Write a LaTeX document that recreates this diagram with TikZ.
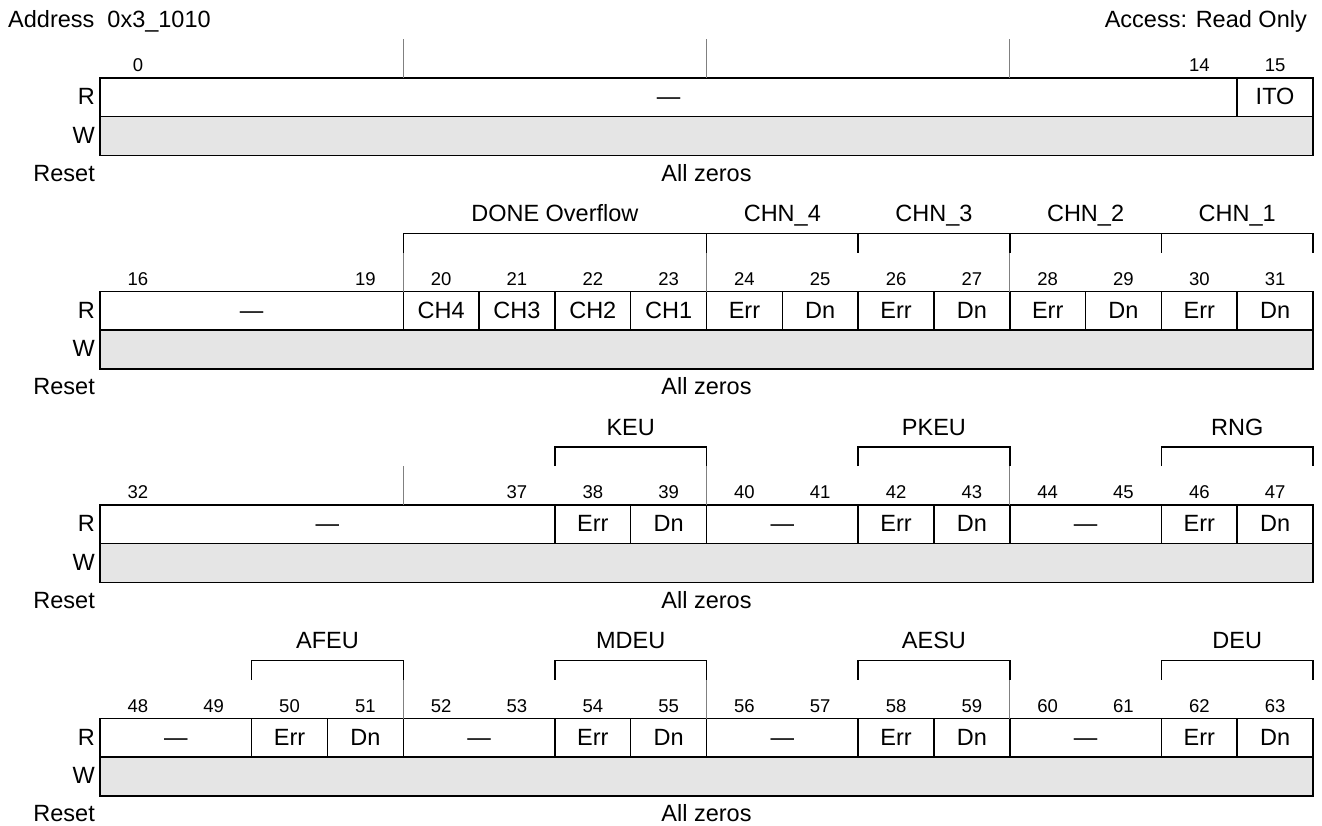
\documentclass[tikz,border=0pt]{standalone}
\usepackage{fontspec}
\setmainfont{Liberation Sans}
\definecolor{wfill}{RGB}{229,229,229}
\definecolor{tickgray}{RGB}{128,128,128}
% #1 = top y of register, #2 = name prefix
\newcommand\regframe[2]{%
  \fill[wfill] (100,#1+38.7) rectangle (1313,#1+77.4);
  \draw[box] (100,#1) rectangle (1313,#1+77.4);
  \draw[box] (100,#1+38.7) -- (1313,#1+38.7);
  \node[lbl, anchor=base east] (#2R) at (95,#1+26.5) {R};
  \node[lbl, anchor=base east] (#2W) at (95,#1+65.2) {W};
  \node[lbl, anchor=base east] (#2reset) at (95,#1+103.2) {Reset};
  \node[lbl, anchor=base] (#2zeros) at (706.5,#1+103.2) {All zeros};
  \foreach \c in {4,8,12} \draw[tick] ({100+\c*75.8125},#1-38.7) -- ({100+\c*75.8125},#1);
}
% dividers in R row: #1 = top, #2 = list of columns
\newcommand\rdivs[2]{%
  \foreach \c in {#2} \draw[box] ({100+\c*75.8125},#1) -- ({100+\c*75.8125},#1+38.7);
}
% cell text: #1 top, #2 from col, #3 to col, #4 name, #5 text
\newcommand\celltext[5]{%
  \node[lbl, anchor=base] (#4) at ({100+(#2+#3)/2*75.8125},#1+26.5) {#5};
}
% bit number: #1 top, #2 column, #3 number
\newcommand\bitno[3]{%
  \node[bitnum, anchor=base] (b#3) at ({100+(#2+0.5)*75.8125},#1-6.5) {#3};
}
% bracket: #1 top, #2 from col, #3 to col, #4 name, #5 label
\newcommand\bracketlbl[5]{%
  \draw[brk] ({100+#2*75.8125},#1-39) -- ({100+#2*75.8125},#1-58) -- ({100+#3*75.8125},#1-58) -- ({100+#3*75.8125},#1-39);
  \node[lbl, anchor=base] (#4) at ({100+(#2+#3)/2*75.8125},#1-70) {#5};
}
\begin{document}
\begin{tikzpicture}[x=1pt,y=-1pt,
  lbl/.style={font=\fontsize{23.5}{27}\selectfont, inner sep=0pt},
  bitnum/.style={font=\fontsize{18.5}{21}\selectfont, inner sep=0pt},
  box/.style={line width=1.5pt},
  tick/.style={draw=tickgray, line width=1pt},
  brk/.style={line width=1.5pt, line join=miter}]
\useasboundingbox (0,0) rectangle (1322,825);

\node[lbl, anchor=base west] (addr) at (8,27) {Address\ \ 0x3\_1010};
\node[lbl, anchor=base east] (access) at (1307,27) {Access: Read Only};

% ---------- Register bits 0-15 ----------
\def\ta{78}
\regframe{\ta}{ra}
\rdivs{\ta}{15}
\celltext{\ta}{0}{15}{ra-res}{---}
\celltext{\ta}{15}{16}{ito}{ITO}
\bitno{\ta}{0}{0}
\bitno{\ta}{14}{14}
\bitno{\ta}{15}{15}

% ---------- Register bits 16-31 ----------
\def\tb{291.5}
\regframe{\tb}{rb}
\rdivs{\tb}{4,5,6,7,8,9,10,11,12,13,14,15}
\celltext{\tb}{0}{4}{rb-res}{---}
\celltext{\tb}{4}{5}{ch4}{CH4}
\celltext{\tb}{5}{6}{ch3}{CH3}
\celltext{\tb}{6}{7}{ch2}{CH2}
\celltext{\tb}{7}{8}{ch1}{CH1}
\foreach \c/\n in {8/c4,10/c3,12/c2,14/c1}{
  \celltext{\tb}{\c}{\c+1}{err\n}{Err}
  \celltext{\tb}{\c+1}{\c+2}{dn\n}{Dn}
}
\bitno{\tb}{0}{16}
\bitno{\tb}{3}{19}
\foreach \c in {4,...,15}{\pgfmathtruncatemacro\bn{\c+16}\bitno{\tb}{\c}{\bn}}
\bracketlbl{\tb}{4}{8}{doneov}{DONE Overflow}
\bracketlbl{\tb}{8}{10}{chn4}{CHN\_4}
\bracketlbl{\tb}{10}{12}{chn3}{CHN\_3}
\bracketlbl{\tb}{12}{14}{chn2}{CHN\_2}
\bracketlbl{\tb}{14}{16}{chn1}{CHN\_1}

% ---------- Register bits 32-47 ----------
\def\tc{505}
\regframe{\tc}{rc}
\rdivs{\tc}{6,7,8,10,11,12,14,15}
\celltext{\tc}{0}{6}{rc-res1}{---}
\celltext{\tc}{6}{7}{errkeu}{Err}
\celltext{\tc}{7}{8}{dnkeu}{Dn}
\celltext{\tc}{8}{10}{rc-res2}{---}
\celltext{\tc}{10}{11}{errpkeu}{Err}
\celltext{\tc}{11}{12}{dnpkeu}{Dn}
\celltext{\tc}{12}{14}{rc-res3}{---}
\celltext{\tc}{14}{15}{errrng}{Err}
\celltext{\tc}{15}{16}{dnrng}{Dn}
\bitno{\tc}{0}{32}
\bitno{\tc}{5}{37}
\foreach \c in {6,...,15}{\pgfmathtruncatemacro\bn{\c+32}\bitno{\tc}{\c}{\bn}}
\bracketlbl{\tc}{6}{8}{keu}{KEU}
\bracketlbl{\tc}{10}{12}{pkeu}{PKEU}
\bracketlbl{\tc}{14}{16}{rng}{RNG}

% ---------- Register bits 48-63 ----------
\def\td{718.5}
\regframe{\td}{rd}
\rdivs{\td}{2,3,4,6,7,8,10,11,12,14,15}
\celltext{\td}{0}{2}{rd-res1}{---}
\celltext{\td}{2}{3}{errafeu}{Err}
\celltext{\td}{3}{4}{dnafeu}{Dn}
\celltext{\td}{4}{6}{rd-res2}{---}
\celltext{\td}{6}{7}{errmdeu}{Err}
\celltext{\td}{7}{8}{dnmdeu}{Dn}
\celltext{\td}{8}{10}{rd-res3}{---}
\celltext{\td}{10}{11}{erraesu}{Err}
\celltext{\td}{11}{12}{dnaesu}{Dn}
\celltext{\td}{12}{14}{rd-res4}{---}
\celltext{\td}{14}{15}{errdeu}{Err}
\celltext{\td}{15}{16}{dndeu}{Dn}
\foreach \c in {0,...,15}{\pgfmathtruncatemacro\bn{\c+48}\bitno{\td}{\c}{\bn}}
\bracketlbl{\td}{2}{4}{afeu}{AFEU}
\bracketlbl{\td}{6}{8}{mdeu}{MDEU}
\bracketlbl{\td}{10}{12}{aesu}{AESU}
\bracketlbl{\td}{14}{16}{deu}{DEU}
\end{tikzpicture}
\end{document}
